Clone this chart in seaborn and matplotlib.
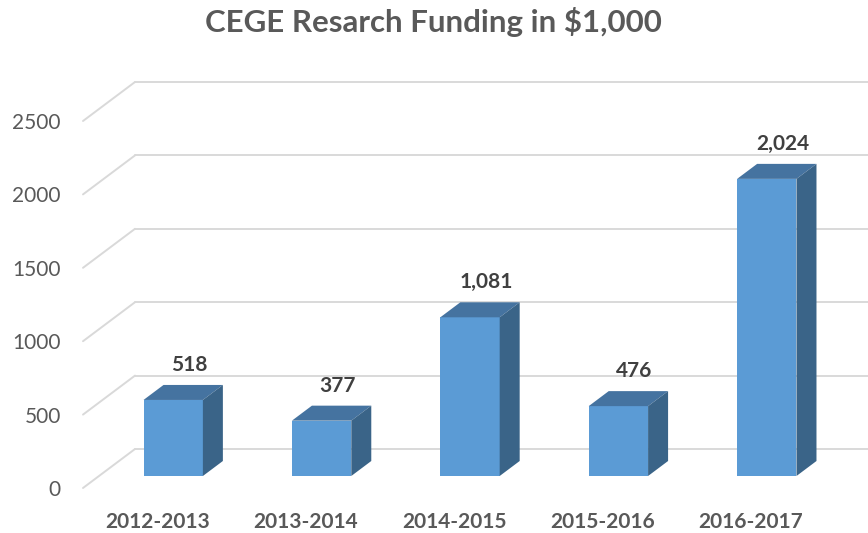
import pandas as pd
import matplotlib
matplotlib.use("Agg")
import matplotlib.pyplot as plt
import matplotlib.transforms as mtransforms
from matplotlib.patches import Polygon
import seaborn as sns

# data
years = ["2012-2013", "2013-2014", "2014-2015", "2015-2016", "2016-2017"]
funding = [518, 377, 1081, 476, 2024]
y_ticks = [0, 500, 1000, 1500, 2000, 2500]

W, H = 868, 533
FRONT, TOP, SIDE = "#5B9BD5", "#4573A0", "#3A6488"
GRID, TEXT, LABEL = "#D9D9D9", "#595959", "#404040"

sns.set_theme(style="white")
plt.rcParams["font.family"] = ["Lato", "DejaVu Sans"]

fig = plt.figure(figsize=(W / 100, H / 100), dpi=100)
ax = fig.add_axes([83 / W, 45 / H, (825 - 83) / W, 367 / H])
df = pd.DataFrame({"year": years, "funding": funding})
sns.barplot(data=df, x="year", y="funding", color=FRONT, saturation=1,
            width=0.4, linewidth=0, ax=ax, zorder=3)
ax.set_xlim(-0.5, 4.5)
ax.set_ylim(0, 2500)

# pixel scales of the front (floor edge) plane
px_x = (825 - 83) / 5
px_y = 367 / 2500

def shifted(dx, dy):
    # transData pushed back into the fake depth, offsets in pixels
    return ax.transData + mtransforms.ScaledTranslation(dx / 100, dy / 100, fig.dpi_scale_trans)

bar_tr = shifted(16, 12)
back_tr = shifted(52, 39)

# back wall gridlines and the floor-side diagonals
for v in y_ticks:
    ax.plot([-0.5, 6], [v, v], color=GRID, lw=1.4, transform=back_tr, clip_on=False, zorder=1)
    ax.plot([-0.5, -0.5 + 52 / px_x], [v, v + 39 / px_y], color=GRID, lw=1.4,
            clip_on=False, zorder=1)

# 3D bars: front faces from seaborn, top and side faces added
ddx, ddy = 20 / px_x, 15 / px_y
for p, v in zip(ax.patches, funding):
    p.set_transform(bar_tr)
    p.set_clip_on(False)
    x0, x1 = p.get_x(), p.get_x() + p.get_width()
    top = Polygon([(x0, v), (x1, v), (x1 + ddx, v + ddy), (x0 + ddx, v + ddy)],
                  closed=True, fc=TOP, ec="none", transform=bar_tr, clip_on=False, zorder=3)
    side = Polygon([(x1, 0), (x1 + ddx, ddy), (x1 + ddx, v + ddy), (x1, v)],
                   closed=True, fc=SIDE, ec="none", transform=bar_tr, clip_on=False, zorder=3)
    ax.add_patch(top)
    ax.add_patch(side)
    ax.annotate(f"{v:,}", xy=((x0 + x1) / 2 + 0.8 * ddx, v + ddy), xycoords=bar_tr,
                xytext=(0, 20), textcoords="offset pixels", ha="center", va="center",
                fontsize=15, fontweight="bold", color=LABEL)

ax.set_yticks(y_ticks)
ax.set_yticklabels([str(t) for t in y_ticks], fontsize=15, color=TEXT)
ax.set_xticks(range(len(years)))
ax.set_xticklabels(years, fontsize=15, fontweight="bold", color=TEXT)
ax.tick_params(axis="y", length=0, pad=16)
ax.tick_params(axis="x", length=0, pad=17)
ax.set_xlabel("")
ax.set_ylabel("")
sns.despine(ax=ax, left=True, bottom=True)
ax.grid(False)

fig.text(433 / W, 1 - 22 / H, "CEGE Resarch Funding in $1,000", ha="center", va="center",
         fontsize=22.5, fontweight="bold", color=TEXT)

fig.savefig("out.png", dpi=100, facecolor="white")
